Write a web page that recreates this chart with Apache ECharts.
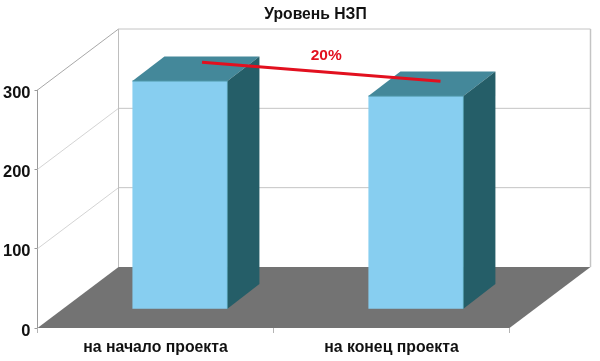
<!DOCTYPE html>
<html><head><meta charset="utf-8">
<style>html,body{margin:0;padding:0;background:#fff}#c{width:600px;height:361px}</style>
<script src="https://cdn.jsdelivr.net/npm/echarts@6/dist/echarts.min.js"></script>
</head><body><div id="c"></div>
<script>
const titleText = 'Уровень НЗП';
const categories = ['на начало проекта', 'на конец проекта'];
const barValues = [287, 268];
const yTicks = [0, 100, 200, 300];
const trendValues = [335, 311];
const trendLabel = '20%';

const WALL_DX = 81, WALL_DY = -61;
const BAR_DX = 24.4, BAR_DY = -19.3, BAR_W = 95, DEPTH_DX = 32, DEPTH_DY = -24.6;
const FONT = '"Liberation Sans", Arial, sans-serif';

function poly(points, fill) {
  return { type: 'polygon', shape: { points }, style: { fill, stroke: null } };
}
function seg(x1, y1, x2, y2, stroke, w) {
  return { type: 'line', shape: { x1, y1, x2, y2 }, style: { stroke, lineWidth: w || 1, fill: null } };
}

function renderWalls(params, api) {
  const band = api.size([1, 0])[0];
  const cx = api.coord([0, 0])[0];
  const left = cx - band / 2;
  const right = left + band * categories.length;
  const y0 = api.coord([0, 0])[1];
  const children = [];
  yTicks.forEach((t) => {
    const y = api.coord([0, t])[1];
    const top = t === yTicks[yTicks.length - 1];
    if (t > 0) {
      children.push(seg(left, y, left + WALL_DX, y + WALL_DY, top ? '#a8a8a8' : '#d4d4d4'));
      children.push(seg(left + WALL_DX, y + WALL_DY, right + WALL_DX, y + WALL_DY, '#c4c4c4'));
    }
  });
  const yTop = api.coord([0, yTicks[yTicks.length - 1]])[1];
  children.push(seg(left + WALL_DX, y0 + WALL_DY, left + WALL_DX, yTop + WALL_DY, '#bdbdbd'));
  children.push(seg(right + WALL_DX, y0 + WALL_DY, right + WALL_DX, yTop + WALL_DY, '#c4c4c4', 1.5));
  children.push(poly([
    [left, y0], [left + WALL_DX, y0 + WALL_DY], [right + WALL_DX, y0 + WALL_DY], [right, y0]
  ], '#737373'));
  return { type: 'group', children };
}

function renderBar(params, api) {
  const i = api.value(0), v = api.value(1);
  const p0 = api.coord([i, 0]), p1 = api.coord([i, v]);
  const x1 = p0[0] + BAR_DX - BAR_W / 2, x2 = x1 + BAR_W;
  const yb = p0[1] + BAR_DY, yt = p1[1] + BAR_DY;
  const dx = DEPTH_DX, dy = DEPTH_DY;
  return { type: 'group', children: [
    poly([[x1, yb], [x2, yb], [x2, yt], [x1, yt]], '#87cef0'),
    poly([[x1, yt], [x2, yt], [x2 + dx, yt + dy], [x1 + dx, yt + dy]], '#44889a'),
    poly([[x2, yt], [x2 + dx, yt + dy], [x2 + dx, yb + dy], [x2, yb]], '#255e68'),
    seg(x2, yt, x2, yb, '#4f97a8'),
    seg(x1, yt, x2, yt, '#4f97a8')
  ] };
}

function renderTrend(params, api) {
  const a = api.coord([0, trendValues[0]]), b = api.coord([1, trendValues[1]]);
  const x1 = a[0] + 46.5, x2 = b[0] + 49;
  return { type: 'group', children: [
    { type: 'line', shape: { x1, y1: a[1], x2, y2: b[1] }, style: { stroke: '#e2101f', lineWidth: 3, fill: null } },
    { type: 'text', style: { text: trendLabel, x: (x1 + x2) / 2 + 5, y: (a[1] + b[1]) / 2 - 16, align: 'center', verticalAlign: 'middle',
        fill: '#e2101f', font: 'bold 15.5px ' + FONT } }
  ] };
}

const chart = echarts.init(document.getElementById('c'), null, { renderer: 'canvas' });
chart.setOption({
  animation: false,
  backgroundColor: '#fff',
  title: { text: titleText, left: 310.5, top: 2, textAlign: 'center',
    textStyle: { fontFamily: FONT, fontSize: 15.7, fontWeight: 'bold', color: '#111' } },
  grid: { left: 37, right: 90.5, top: 90, bottom: 33 },
  xAxis: {
    type: 'category', data: categories, boundaryGap: true,
    axisLine: { show: false },
    axisTick: { show: true, length: 5, lineStyle: { color: '#b4b4b4' } },
    axisLabel: { margin: 12, fontFamily: FONT, fontSize: 15.8, fontWeight: 'bold', color: '#111', interval: 0 }
  },
  yAxis: {
    type: 'value', min: 0, max: 300, interval: 100,
    axisLine: { show: true, lineStyle: { color: '#9a9a9a' } },
    axisTick: { show: true, length: 3, lineStyle: { color: '#9a9a9a' } },
    axisLabel: { margin: 7, verticalAlign: 'top', lineHeight: 6, fontFamily: FONT, fontSize: 16.5, fontWeight: 'bold', color: '#111' },
    splitLine: { show: false }
  },
  series: [
    { type: 'custom', z: 1, silent: true, renderItem: renderWalls, data: [[0, 0]], clip: false },
    { type: 'custom', z: 2, silent: true, renderItem: renderBar, clip: false,
      data: barValues.map((v, i) => [i, v]) },
    { type: 'custom', z: 3, silent: true, renderItem: renderTrend, data: [[0, 0]], clip: false }
  ]
});
</script></body></html>
